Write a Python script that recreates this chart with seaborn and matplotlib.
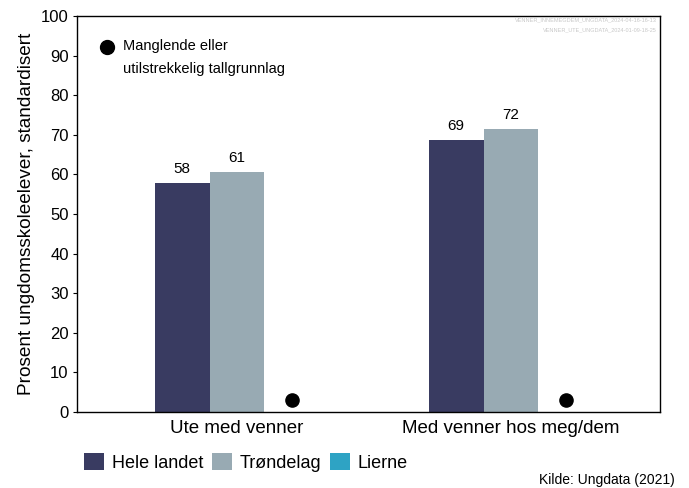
import matplotlib
matplotlib.use("Agg")
import matplotlib.pyplot as plt
import seaborn as sns
import pandas as pd
import numpy as np
from matplotlib.patches import Patch

categories = ["Ute med venner", "Med venner hos meg/dem"]
regions = ["Hele landet", "Trøndelag", "Lierne"]
hele_landet = [57.8, 68.6]
trondelag = [60.6, 71.5]
lierne = [np.nan, np.nan]
missing_marker_y = [3, 3]
colors = ["#393b61", "#98aab3", "#2ea3c4"]

sns.set_style("white")
plt.rcParams['font.family'] = ['Liberation Sans', 'DejaVu Sans']
plt.rcParams['text.color'] = 'black'
plt.rcParams['axes.labelcolor'] = 'black'
plt.rcParams['xtick.color'] = 'black'
plt.rcParams['ytick.color'] = 'black'

rows = []
for i, c in enumerate(categories):
    rows.append((c, regions[0], hele_landet[i]))
    rows.append((c, regions[1], trondelag[i]))
    rows.append((c, regions[2], lierne[i]))
df = pd.DataFrame(rows, columns=["kategori", "region", "verdi"])

fig = plt.figure(figsize=(6.89, 4.88), dpi=100)
ax = fig.add_axes([0.1118, 0.1557, 0.8462, 0.8113])

sns.barplot(data=df, x="kategori", y="verdi", hue="region", hue_order=regions,
            order=categories, palette=colors, width=0.6, dodge=True,
            saturation=1, legend=False, ax=ax, linewidth=0)

for cont in ax.containers:
    labels = ["" if np.isnan(v) else f"{round(v):d}" for v in cont.datavalues]
    ax.bar_label(cont, labels=labels, padding=5, fontsize=11)

for i, c in enumerate(categories):
    if np.isnan(lierne[i]):
        ax.scatter([i + 0.2], [missing_marker_y[i]], s=90, color="black", zorder=5)

ax.set_xlim(-0.584, 1.544)
ax.set_ylim(0, 100)
ax.set_yticks(range(0, 101, 10))
ax.set_xlabel("")
ax.set_ylabel("Prosent ungdomsskoleelever, standardisert", fontsize=13.7)
ax.tick_params(axis="y", labelsize=12, length=3, left=True, direction="out", pad=3)
ax.tick_params(axis="x", labelsize=13.5, length=0, pad=6)
for s in ax.spines.values():
    s.set_color("black")
    s.set_linewidth(1)

# missing-data key (top left)
ax.plot([0.0515], [0.922], marker="o", markersize=10, color="black",
        linestyle="", transform=ax.transAxes, clip_on=False)
ax.text(0.0789, 0.924, "Manglende eller", transform=ax.transAxes,
        ha="left", va="center", fontsize=10.5)
ax.text(0.0789, 0.866, "utilstrekkelig tallgrunnlag", transform=ax.transAxes,
        ha="left", va="center", fontsize=10.5)

handles = [Patch(facecolor=col, edgecolor="none") for col in colors]
fig.legend(handles=handles, labels=regions, loc="lower left", ncol=3,
           bbox_to_anchor=(0.099, 0.0), frameon=False, fontsize=13,
           handlelength=1.1, handleheight=1.1, handletextpad=0.45, columnspacing=0.45)

fig.text(0.98, 0.003, "Kilde: Ungdata (2021)", ha="right", va="bottom", fontsize=10)
fig.text(0.953, 0.959, "VENNER_INNEMEGDEM_UNGDATA_2024-04-16-16-13", ha="right",
         va="center", fontsize=4, color="#c8c8c8")
fig.text(0.953, 0.939, "VENNER_UTE_UNGDATA_2024-01-09-18-25", ha="right",
         va="center", fontsize=4, color="#c8c8c8")

fig.savefig("out.png", dpi=100)
